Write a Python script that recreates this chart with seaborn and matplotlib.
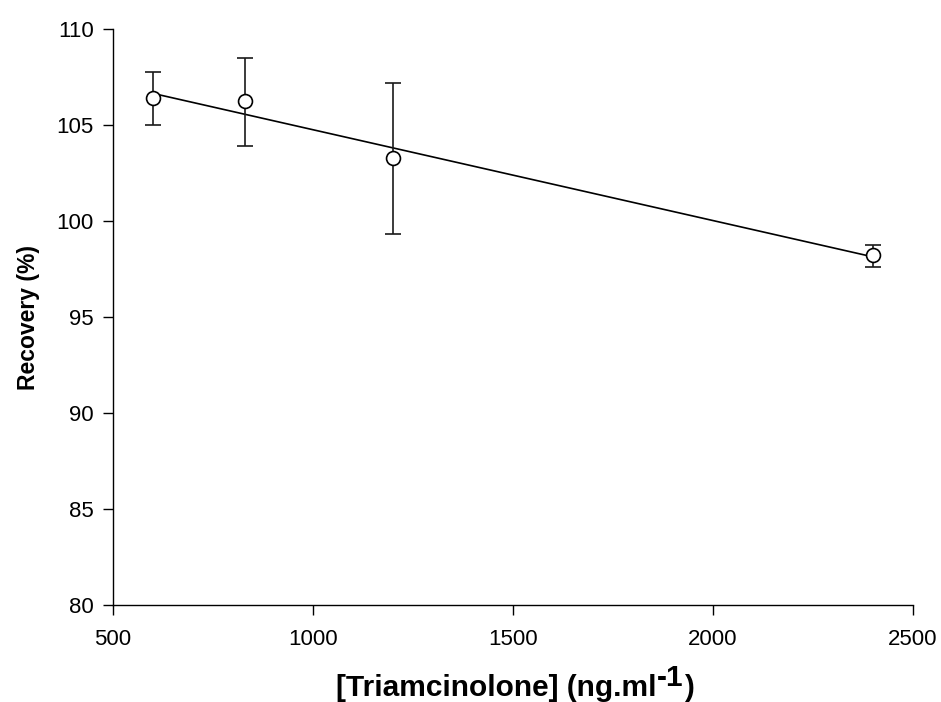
import matplotlib
matplotlib.use("Agg")
import matplotlib.pyplot as plt
import seaborn as sns
import pandas as pd

# Data
concentration = [600, 830, 1200, 2400]
recovery = [106.42, 106.25, 103.29, 98.23]
err_upper = [107.78, 108.52, 107.21, 98.76]
err_lower = [105.01, 103.94, 99.34, 97.60]
x_ticks = [500, 1000, 1500, 2000, 2500]
y_ticks = [80, 85, 90, 95, 100, 105, 110]
x_label_main = "[Triamcinolone] (ng.ml"
x_label_sup = "-1"
x_label_end = ")"
y_label = "Recovery (%)"

sns.set_style("ticks")
plt.rcParams['font.family'] = ['Liberation Sans', 'DejaVu Sans']
plt.rcParams['text.color'] = 'black'
plt.rcParams['axes.labelcolor'] = 'black'

df = pd.DataFrame({"conc": concentration, "rec": recovery})

W, H = 941, 702
fig = plt.figure(figsize=(W / 100, H / 100), dpi=100)
ax = fig.add_axes([113 / W, 1 - 605 / H, 800 / W, (605 - 29.3) / H])

# regression line over the data range
sns.regplot(data=df, x="conc", y="rec", ax=ax, scatter=False, ci=None,
            truncate=True, line_kws=dict(color="black", lw=1.2, zorder=2))

yerr = [[r - l for r, l in zip(recovery, err_lower)],
        [u - r for r, u in zip(recovery, err_upper)]]
ax.errorbar(concentration, recovery, yerr=yerr, fmt="none", ecolor="#1a1a1a",
            elinewidth=1.2, capsize=5.8, capthick=1.2, zorder=3)

sns.scatterplot(data=df, x="conc", y="rec", ax=ax, marker="o", s=100,
                facecolor="white", edgecolor="black", linewidth=1.2, zorder=4)

ax.set_xlim(500, 2500)
ax.set_ylim(80, 110)
ax.set_xticks(x_ticks)
ax.set_yticks(y_ticks)
ax.tick_params(axis="both", direction="out", length=7, width=1.0,
               labelsize=16, colors="black")
ax.tick_params(axis="y", pad=7)
ax.tick_params(axis="x", pad=10)
for s in ["top", "right"]:
    ax.spines[s].set_visible(False)
for s in ["left", "bottom"]:
    ax.spines[s].set_linewidth(1.0)
    ax.spines[s].set_color("black")
ax.set_xlabel("")
ax.set_ylabel("")

# y label
fig.text(28 / W, 1 - 318 / H, y_label, rotation=90, ha="center", va="center",
         fontsize=16.5, fontweight="bold", color="black")

# x label with full-size superscript
fs = 21.5
base_y = 1 - 696 / H
t1 = fig.text(0, base_y, x_label_main, fontsize=fs, fontweight="bold",
              ha="left", va="baseline")
t2 = fig.text(0, base_y + 10 / H, x_label_sup, fontsize=fs, fontweight="bold",
              ha="left", va="baseline")
t3 = fig.text(0, base_y, x_label_end, fontsize=fs, fontweight="bold",
              ha="left", va="baseline")
fig.canvas.draw()
r = fig.canvas.get_renderer()
w1 = t1.get_window_extent(r).width
w2 = t2.get_window_extent(r).width
w3 = t3.get_window_extent(r).width
total = w1 + w2 + w3
start = 515 - total / 2
t1.set_x(start / W)
t2.set_x((start + w1) / W)
t3.set_x((start + w1 + w2) / W)

fig.savefig("out.png", dpi=100)
